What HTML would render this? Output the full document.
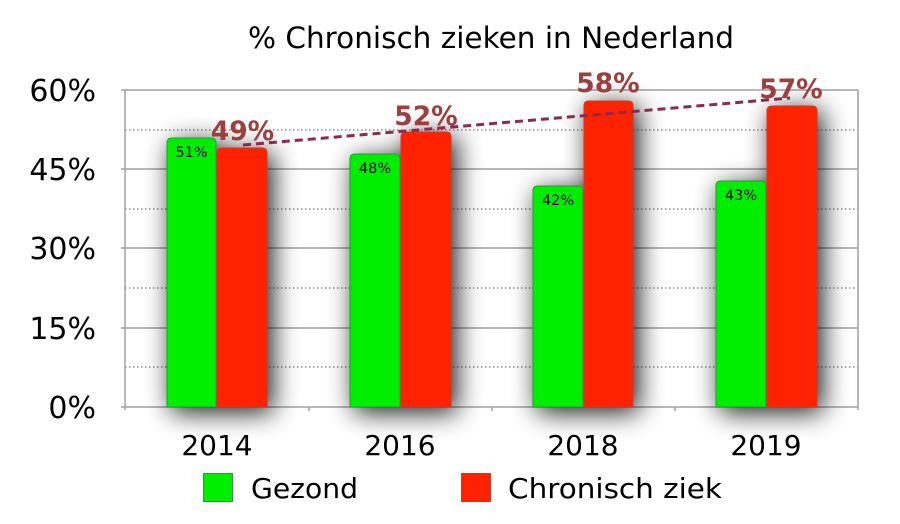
<!DOCTYPE html>
<html><head><meta charset="utf-8"><style>
html,body{margin:0;padding:0;background:#fff;}
svg{display:block;}
text{font-family:"DejaVu Sans","Liberation Sans",sans-serif;}
</style></head><body>
<svg width="900" height="524" viewBox="0 0 900 524" xmlns="http://www.w3.org/2000/svg">
<defs>
<filter id="sh" x="-100%" y="-30%" width="300%" height="160%">
<feGaussianBlur in="SourceAlpha" stdDeviation="13" result="b"/>
<feOffset in="b" dx="5" dy="5" result="o"/>
<feComponentTransfer in="o" result="s"><feFuncA type="linear" slope="0.9"/></feComponentTransfer>
<feMerge><feMergeNode in="s"/><feMergeNode in="SourceGraphic"/></feMerge>
</filter>
</defs>
<rect width="900" height="524" fill="#fff"/>
<text x="491" y="48" font-size="29.5" text-anchor="middle" fill="#000">% Chronisch zieken in Nederland</text>

<!-- grid -->
<g stroke="#555" stroke-width="1" stroke-dasharray="1.5 2.5">
<line x1="125" y1="130" x2="858" y2="130"/>
<line x1="125" y1="209" x2="858" y2="209"/>
<line x1="125" y1="288" x2="858" y2="288"/>
<line x1="125" y1="367" x2="858" y2="367"/>
</g>
<g stroke="#a0a0a0" stroke-width="1.5">
<line x1="121" y1="169" x2="858" y2="169"/>
<line x1="121" y1="248" x2="858" y2="248"/>
<line x1="121" y1="328" x2="858" y2="328"/>
<line x1="121" y1="90" x2="858" y2="90"/>
</g>
<g stroke="#a0a0a0" stroke-width="1.5">
<line x1="125" y1="90" x2="125" y2="410"/>
<line x1="858" y1="90" x2="858" y2="410"/>
<line x1="121" y1="407" x2="858" y2="407"/>
<line x1="309" y1="407" x2="309" y2="411"/>
<line x1="492" y1="407" x2="492" y2="411"/>
<line x1="675" y1="407" x2="675" y2="411"/>
</g>

<!-- bars -->
<g filter="url(#sh)">
<path d="M167,407 V143 Q167,138 172,138 H211 Q216,138 216,143 V407 Z" fill="#00ee00" stroke="#2a9a3a" stroke-width="1"/>
<path d="M217,407 V153 Q217,148 222,148 H262 Q267,148 267,153 V407 Z" fill="#ff2200" stroke="#c83a2a" stroke-width="1"/>
</g>
<g filter="url(#sh)">
<path d="M350,407 V159 Q350,154 355,154 H395 Q400,154 400,159 V407 Z" fill="#00ee00" stroke="#2a9a3a" stroke-width="1"/>
<path d="M401,407 V137 Q401,132 406,132 H446 Q451,132 451,137 V407 Z" fill="#ff2200" stroke="#c83a2a" stroke-width="1"/>
</g>
<g filter="url(#sh)">
<path d="M533,407 V191 Q533,186 538,186 H578 Q583,186 583,191 V407 Z" fill="#00ee00" stroke="#2a9a3a" stroke-width="1"/>
<path d="M584,407 V106 Q584,101 589,101 H628 Q633,101 633,106 V407 Z" fill="#ff2200" stroke="#c83a2a" stroke-width="1"/>
</g>
<g filter="url(#sh)">
<path d="M716,407 V186 Q716,181 721,181 H761 Q766,181 766,186 V407 Z" fill="#00ee00" stroke="#2a9a3a" stroke-width="1"/>
<path d="M767,407 V111 Q767,106 772,106 H812 Q817,106 817,111 V407 Z" fill="#ff2200" stroke="#c83a2a" stroke-width="1"/>
</g>

<!-- green labels -->
<g font-size="14.5" fill="#000" text-anchor="middle">
<text x="191.5" y="157">51%</text>
<text x="375" y="173">48%</text>
<text x="558" y="205">42%</text>
<text x="741" y="200">43%</text>
</g>

<!-- trend line -->
<line x1="243" y1="145" x2="790" y2="98" stroke="#8b2a52" stroke-width="3" stroke-dasharray="8 5"/>

<!-- red labels -->
<g font-size="26.5" font-weight="bold" fill="#9c3f3f" text-anchor="middle">
<text x="242.5" y="140">49%</text>
<text x="426" y="125">52%</text>
<text x="608" y="92">58%</text>
<text x="791" y="98">57%</text>
</g>

<!-- y labels -->
<g font-size="30" fill="#000" text-anchor="end">
<text x="96" y="101">60%</text>
<text x="96" y="180">45%</text>
<text x="96" y="259">30%</text>
<text x="96" y="339">15%</text>
<text x="96" y="418">0%</text>
</g>

<!-- x labels -->
<g font-size="28" fill="#000" text-anchor="middle">
<text x="217" y="455">2014</text>
<text x="400" y="455">2016</text>
<text x="583" y="455">2018</text>
<text x="766" y="455">2019</text>
</g>

<!-- legend -->
<rect x="203.5" y="473.5" width="29" height="28" fill="#00ee00" stroke="#2a9a3a" stroke-width="1"/>
<text x="251" y="498" font-size="28" fill="#000" textLength="107" lengthAdjust="spacingAndGlyphs">Gezond</text>
<rect x="461.5" y="473.5" width="29" height="28" fill="#ff2200" stroke="#c83a2a" stroke-width="1"/>
<text x="508" y="498" font-size="28" fill="#000" textLength="214" lengthAdjust="spacingAndGlyphs">Chronisch ziek</text>
</svg>
</body></html>
